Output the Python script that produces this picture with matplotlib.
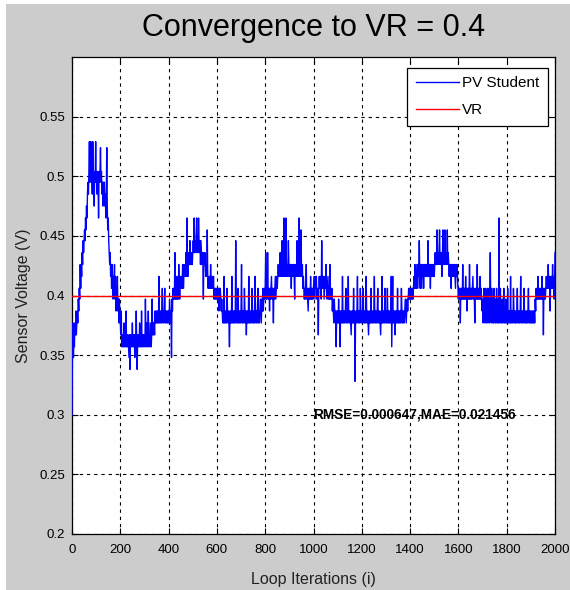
import numpy as np
import matplotlib
matplotlib.use("Agg")
import matplotlib.pyplot as plt
from matplotlib.patches import Rectangle

plt.rcParams['font.family'] = ['Liberation Sans', 'DejaVu Sans']

# Loop iteration index (sensor logged every 2 iterations)
iterations = np.arange(0, 2001, 2)

# Measured sensor voltage of the PV student, one row per 100 iterations
pv_student = [
    # 0 - 98
    0.300, 0.357, 0.377, 0.348, 0.367, 0.357, 0.377, 0.367, 0.387, 0.367,
    0.377, 0.387, 0.377, 0.397, 0.387, 0.406, 0.397, 0.426, 0.406, 0.426,
    0.416, 0.436, 0.426, 0.446, 0.436, 0.446, 0.455, 0.446, 0.465, 0.455,
    0.475, 0.465, 0.485, 0.495, 0.485, 0.504, 0.529, 0.495, 0.504, 0.529,
    0.495, 0.504, 0.485, 0.529, 0.495, 0.504, 0.475, 0.504, 0.495, 0.529,
    # 100 - 198
    0.495, 0.504, 0.485, 0.504, 0.495, 0.465, 0.504, 0.495, 0.504, 0.524,
    0.495, 0.504, 0.485, 0.495, 0.475, 0.495, 0.485, 0.495, 0.475, 0.485,
    0.465, 0.485, 0.524, 0.475, 0.455, 0.465, 0.446, 0.436, 0.426, 0.436,
    0.416, 0.426, 0.406, 0.426, 0.416, 0.397, 0.416, 0.406, 0.426, 0.397,
    0.416, 0.387, 0.406, 0.397, 0.416, 0.387, 0.397, 0.377, 0.397, 0.387,
    # 200 - 298
    0.377, 0.367, 0.387, 0.357, 0.367, 0.357, 0.367, 0.357, 0.377, 0.357,
    0.367, 0.357, 0.387, 0.357, 0.367, 0.357, 0.367, 0.357, 0.348, 0.367,
    0.338, 0.367, 0.357, 0.367, 0.357, 0.377, 0.357, 0.367, 0.357, 0.367,
    0.348, 0.367, 0.357, 0.387, 0.357, 0.338, 0.367, 0.357, 0.367, 0.357,
    0.377, 0.357, 0.367, 0.357, 0.387, 0.357, 0.367, 0.357, 0.367, 0.357,
    # 300 - 398
    0.367, 0.357, 0.397, 0.367, 0.357, 0.377, 0.357, 0.367, 0.387, 0.357,
    0.367, 0.357, 0.377, 0.367, 0.357, 0.367, 0.397, 0.367, 0.377, 0.367,
    0.377, 0.367, 0.387, 0.377, 0.387, 0.377, 0.387, 0.377, 0.387, 0.377,
    0.416, 0.377, 0.387, 0.377, 0.387, 0.377, 0.387, 0.406, 0.377, 0.387,
    0.377, 0.387, 0.406, 0.377, 0.387, 0.377, 0.387, 0.377, 0.387, 0.377,
    # 400 - 498
    0.387, 0.377, 0.397, 0.387, 0.377, 0.387, 0.348, 0.397, 0.387, 0.406,
    0.397, 0.406, 0.397, 0.436, 0.397, 0.406, 0.397, 0.416, 0.397, 0.406,
    0.397, 0.426, 0.406, 0.397, 0.406, 0.416, 0.406, 0.416, 0.406, 0.426,
    0.416, 0.406, 0.426, 0.416, 0.426, 0.416, 0.436, 0.416, 0.465, 0.426,
    0.416, 0.426, 0.436, 0.426, 0.446, 0.426, 0.436, 0.426, 0.436, 0.426,
    # 500 - 598
    0.436, 0.446, 0.436, 0.465, 0.436, 0.446, 0.436, 0.446, 0.465, 0.436,
    0.446, 0.436, 0.465, 0.446, 0.436, 0.446, 0.426, 0.446, 0.436, 0.426,
    0.436, 0.426, 0.397, 0.436, 0.426, 0.436, 0.426, 0.416, 0.426, 0.416,
    0.455, 0.416, 0.406, 0.416, 0.406, 0.416, 0.406, 0.426, 0.406, 0.416,
    0.406, 0.416, 0.406, 0.416, 0.397, 0.406, 0.397, 0.406, 0.397, 0.406,
    # 600 - 698
    0.397, 0.406, 0.397, 0.406, 0.387, 0.406, 0.397, 0.406, 0.397, 0.387,
    0.397, 0.387, 0.377, 0.387, 0.377, 0.416, 0.377, 0.387, 0.377, 0.387,
    0.377, 0.406, 0.387, 0.377, 0.387, 0.377, 0.357, 0.387, 0.377, 0.387,
    0.377, 0.416, 0.377, 0.387, 0.377, 0.387, 0.377, 0.387, 0.377, 0.446,
    0.387, 0.377, 0.387, 0.377, 0.406, 0.377, 0.387, 0.377, 0.387, 0.377,
    # 700 - 798
    0.387, 0.426, 0.377, 0.387, 0.377, 0.387, 0.377, 0.406, 0.387, 0.377,
    0.387, 0.367, 0.387, 0.377, 0.387, 0.377, 0.416, 0.377, 0.387, 0.377,
    0.387, 0.377, 0.387, 0.406, 0.377, 0.387, 0.377, 0.387, 0.377, 0.416,
    0.387, 0.377, 0.387, 0.377, 0.387, 0.406, 0.377, 0.387, 0.377, 0.387,
    0.397, 0.387, 0.377, 0.397, 0.387, 0.406, 0.387, 0.397, 0.406, 0.397,
    # 800 - 898
    0.406, 0.436, 0.397, 0.406, 0.397, 0.436, 0.406, 0.397, 0.406, 0.387,
    0.406, 0.397, 0.406, 0.416, 0.397, 0.406, 0.397, 0.377, 0.406, 0.397,
    0.406, 0.416, 0.397, 0.406, 0.416, 0.406, 0.416, 0.426, 0.416, 0.426,
    0.416, 0.436, 0.416, 0.426, 0.416, 0.446, 0.426, 0.416, 0.426, 0.465,
    0.416, 0.426, 0.416, 0.465, 0.426, 0.416, 0.426, 0.416, 0.446, 0.426,
    # 900 - 998
    0.416, 0.426, 0.416, 0.426, 0.406, 0.426, 0.416, 0.426, 0.416, 0.426,
    0.416, 0.397, 0.426, 0.416, 0.426, 0.416, 0.446, 0.426, 0.416, 0.426,
    0.465, 0.416, 0.426, 0.416, 0.455, 0.426, 0.416, 0.426, 0.406, 0.416,
    0.406, 0.397, 0.406, 0.397, 0.406, 0.426, 0.397, 0.406, 0.397, 0.387,
    0.406, 0.397, 0.406, 0.397, 0.416, 0.397, 0.406, 0.397, 0.406, 0.397,
    # 1000 - 1098
    0.406, 0.416, 0.406, 0.397, 0.416, 0.406, 0.416, 0.397, 0.406, 0.397,
    0.367, 0.406, 0.416, 0.406, 0.416, 0.406, 0.397, 0.446, 0.406, 0.416,
    0.406, 0.416, 0.397, 0.406, 0.416, 0.406, 0.426, 0.406, 0.397, 0.406,
    0.416, 0.397, 0.406, 0.397, 0.426, 0.397, 0.406, 0.397, 0.406, 0.387,
    0.397, 0.387, 0.377, 0.397, 0.387, 0.377, 0.387, 0.357, 0.387, 0.377,
    # 1100 - 1198
    0.387, 0.377, 0.397, 0.377, 0.387, 0.357, 0.387, 0.377, 0.387, 0.377,
    0.416, 0.377, 0.387, 0.377, 0.387, 0.377, 0.387, 0.406, 0.377, 0.387,
    0.377, 0.387, 0.416, 0.377, 0.387, 0.377, 0.387, 0.377, 0.367, 0.387,
    0.377, 0.387, 0.377, 0.406, 0.377, 0.387, 0.328, 0.377, 0.387, 0.377,
    0.387, 0.416, 0.377, 0.387, 0.377, 0.387, 0.377, 0.406, 0.387, 0.377,
    # 1200 - 1298
    0.387, 0.377, 0.387, 0.406, 0.377, 0.387, 0.377, 0.387, 0.377, 0.416,
    0.387, 0.377, 0.387, 0.377, 0.367, 0.387, 0.377, 0.387, 0.377, 0.406,
    0.377, 0.387, 0.377, 0.387, 0.377, 0.387, 0.416, 0.377, 0.387, 0.377,
    0.387, 0.377, 0.387, 0.406, 0.377, 0.387, 0.377, 0.387, 0.377, 0.367,
    0.387, 0.377, 0.416, 0.377, 0.387, 0.377, 0.387, 0.377, 0.406, 0.387,
    # 1300 - 1398
    0.377, 0.387, 0.377, 0.406, 0.377, 0.387, 0.377, 0.387, 0.377, 0.387,
    0.377, 0.416, 0.357, 0.387, 0.416, 0.377, 0.387, 0.377, 0.387, 0.367,
    0.387, 0.377, 0.387, 0.377, 0.406, 0.377, 0.387, 0.377, 0.387, 0.377,
    0.387, 0.377, 0.406, 0.387, 0.377, 0.387, 0.377, 0.387, 0.377, 0.387,
    0.397, 0.387, 0.377, 0.387, 0.397, 0.387, 0.397, 0.406, 0.397, 0.406,
    # 1400 - 1498
    0.397, 0.406, 0.397, 0.406, 0.397, 0.406, 0.397, 0.406, 0.416, 0.406,
    0.426, 0.406, 0.416, 0.406, 0.426, 0.416, 0.406, 0.426, 0.416, 0.446,
    0.416, 0.406, 0.426, 0.416, 0.406, 0.426, 0.416, 0.426, 0.406, 0.426,
    0.416, 0.426, 0.416, 0.426, 0.416, 0.426, 0.416, 0.446, 0.416, 0.426,
    0.416, 0.426, 0.406, 0.426, 0.416, 0.426, 0.416, 0.426, 0.416, 0.426,
    # 1500 - 1598
    0.416, 0.426, 0.436, 0.426, 0.436, 0.426, 0.455, 0.426, 0.436, 0.426,
    0.436, 0.455, 0.426, 0.436, 0.426, 0.436, 0.416, 0.436, 0.455, 0.426,
    0.436, 0.426, 0.455, 0.436, 0.426, 0.436, 0.426, 0.455, 0.426, 0.436,
    0.426, 0.416, 0.426, 0.416, 0.426, 0.406, 0.426, 0.416, 0.426, 0.416,
    0.426, 0.416, 0.426, 0.416, 0.406, 0.426, 0.416, 0.426, 0.416, 0.406,
    # 1600 - 1698
    0.397, 0.406, 0.397, 0.406, 0.377, 0.406, 0.397, 0.406, 0.397, 0.426,
    0.397, 0.406, 0.397, 0.406, 0.397, 0.416, 0.397, 0.406, 0.387, 0.406,
    0.397, 0.406, 0.397, 0.426, 0.397, 0.406, 0.397, 0.406, 0.397, 0.406,
    0.416, 0.397, 0.406, 0.397, 0.377, 0.406, 0.397, 0.406, 0.397, 0.426,
    0.397, 0.406, 0.397, 0.406, 0.397, 0.416, 0.397, 0.406, 0.397, 0.387,
    # 1700 - 1798
    0.397, 0.377, 0.397, 0.406, 0.387, 0.377, 0.406, 0.387, 0.377, 0.397,
    0.406, 0.377, 0.387, 0.406, 0.377, 0.397, 0.436, 0.387, 0.377, 0.406,
    0.387, 0.377, 0.397, 0.377, 0.406, 0.387, 0.377, 0.397, 0.377, 0.406,
    0.387, 0.377, 0.397, 0.377, 0.465, 0.377, 0.387, 0.406, 0.377, 0.387,
    0.377, 0.397, 0.377, 0.387, 0.406, 0.377, 0.387, 0.377, 0.397, 0.377,
    # 1800 - 1898
    0.387, 0.377, 0.406, 0.377, 0.387, 0.377, 0.387, 0.377, 0.416, 0.377,
    0.387, 0.377, 0.387, 0.377, 0.406, 0.387, 0.377, 0.387, 0.377, 0.387,
    0.377, 0.387, 0.406, 0.377, 0.387, 0.377, 0.387, 0.377, 0.387, 0.416,
    0.377, 0.387, 0.377, 0.387, 0.377, 0.387, 0.406, 0.377, 0.387, 0.377,
    0.387, 0.377, 0.387, 0.377, 0.387, 0.406, 0.377, 0.387, 0.377, 0.387,
    # 1900 - 2000
    0.377, 0.387, 0.377, 0.387, 0.377, 0.387, 0.377, 0.387, 0.377, 0.397,
    0.387, 0.406, 0.397, 0.406, 0.397, 0.416, 0.397, 0.406, 0.397, 0.406,
    0.397, 0.406, 0.397, 0.416, 0.397, 0.406, 0.367, 0.406, 0.397, 0.406,
    0.397, 0.406, 0.416, 0.406, 0.416, 0.406, 0.426, 0.406, 0.416, 0.406,
    0.387, 0.416, 0.406, 0.416, 0.406, 0.426, 0.406, 0.416, 0.397, 0.406,
    0.436,
]

# Reference voltage
vr = 0.4
vr_line = np.full(len(iterations), vr)

rmse_text = "RMSE=0.000647,MAE=0.021456"
xticks = [0, 200, 400, 600, 800, 1000, 1200, 1400, 1600, 1800, 2000]
yticks = [0.2, 0.25, 0.3, 0.35, 0.4, 0.45, 0.5, 0.55]
ytick_labels = ["0.2", "0.25", "0.3", "0.35", "0.4", "0.45", "0.5", "0.55"]

fig = plt.figure(figsize=(5.7, 5.9), dpi=100, facecolor="#cccccc")
# thin white margin along the top and left edges of the window
for rect in [(0, 0, 6 / 570, 1), (0, 1 - 4 / 590, 1, 4 / 590)]:
    fig.patches.append(Rectangle(rect[:2], rect[2], rect[3], transform=fig.transFigure,
                                 facecolor="white", edgecolor="none", zorder=-10))

ax = fig.add_axes([72 / 570, 1 - 534 / 590, 483 / 570, 477 / 590])
ax.set_facecolor("white")

ax.plot(iterations, pv_student, color=(0, 0, 1), lw=1.0, label="PV Student", zorder=3)
ax.plot(iterations, vr_line, color=(1, 0, 0), lw=1.0, label="VR", zorder=4)

ax.set_xlim(0, 2000)
ax.set_ylim(0.2, 0.6)
ax.set_xticks(xticks)
ax.set_xticklabels([str(t) for t in xticks])
ax.set_yticks(yticks)
ax.set_yticklabels(ytick_labels)

ax.grid(True, color="black", linestyle=(0, (3, 3.5)), linewidth=0.8)
ax.set_axisbelow(True)
ax.tick_params(direction="in", length=4, width=0.8, top=True, right=True,
               labelsize=9.5, colors="black")
ax.tick_params(axis="x", pad=7)
ax.tick_params(axis="y", pad=5)
for s in ax.spines.values():
    s.set_linewidth(0.9)
    s.set_color("black")

ax.set_title("Convergence to VR = 0.4", fontsize=22, pad=15)
ax.set_xlabel("Loop Iterations (i)", fontsize=11.5, labelpad=12, color="#222222")
ax.set_ylabel("Sensor Voltage (V)", fontsize=11.5, labelpad=6, color="#222222")

ax.text(1000, 0.3, rmse_text, fontsize=9.8, fontweight="bold", ha="left", va="center",
        zorder=5)

leg = ax.legend(loc="upper right", bbox_to_anchor=((548 - 72) / 483, (534 - 68) / 477),
                borderaxespad=0, fancybox=False, shadow=False, framealpha=1,
                edgecolor="black", fontsize=11, handlelength=2.8, borderpad=0.55,
                labelspacing=0.85, handletextpad=0.25)
leg.get_frame().set_linewidth(0.9)

fig.savefig("out.png", dpi=100, facecolor=fig.get_facecolor())
